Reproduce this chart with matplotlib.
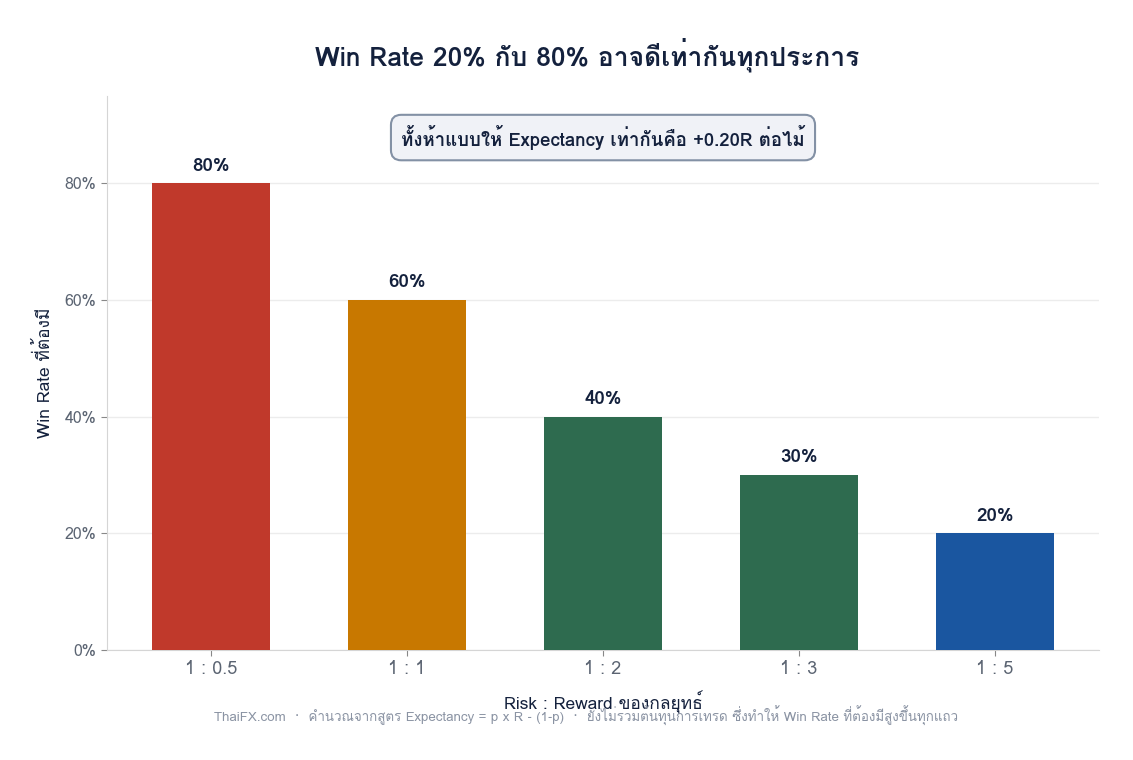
import matplotlib
matplotlib.use('Agg')
import matplotlib.pyplot as plt
from matplotlib.ticker import FuncFormatter

#thai looped font with latin glyphs, then fallbacks
plt.rcParams['font.family'] = ['Garuda', 'Loma', 'Noto Sans Thai Looped',
                               'Liberation Sans', 'Noto Sans Thai', 'DejaVu Sans']

ratios    = ['1 : 0.5', '1 : 1', '1 : 2', '1 : 3', '1 : 5']
win_rates = [80, 60, 40, 30, 20]
colors    = ['#C0392B', '#C87800', '#2E6B4F', '#2E6B4F', '#1A56A0']

title  = 'Win Rate 20% กับ 80% อาจดีเท่ากันทุกประการ'
note   = 'ทั้งห้าแบบให้ Expectancy เท่ากันคือ +0.20R ต่อไม้'
footer = ('ThaiFX.com  ·  คำนวณจากสูตร Expectancy = p x R − (1−p)  ·  '
          'ยังไม่รวมต้นทุนการเทรด ซึ่งทำให้ Win Rate ที่ต้องมีสูงขึ้นทุกแถว')

dark = '#14213D'
grey = '#5B6472'

fig = plt.figure(figsize=(11.33, 7.6), dpi=100, facecolor='white')
ax = fig.add_axes([107/1133, 110/760, (1099-107)/1133, (650-96)/760])

x = range(len(ratios))
ax.bar(x, win_rates, width=0.6, color=colors, zorder=3)
for xi, v in zip(x, win_rates):
    ax.text(xi, v + 1.5, f'{v}%', ha='center', va='bottom',
            fontsize=13.5, fontweight='bold', color=dark)

ax.set_xlim(-0.53, 4.53)
ax.set_ylim(0, 95)
ax.set_yticks([0, 20, 40, 60, 80])
ax.yaxis.set_major_formatter(FuncFormatter(lambda v, p: f'{v:.0f}%'))
ax.set_xticks(list(x))
ax.set_xticklabels(ratios, fontsize=13, color=grey)
ax.tick_params(axis='y', labelsize=11.5, labelcolor=grey, color='#888888', length=4)
ax.tick_params(axis='x', color='#888888', length=4)
ax.grid(axis='y', color='#ECECEC', linewidth=1, zorder=0)
for s in ['top', 'right']:
    ax.spines[s].set_visible(False)
for s in ['left', 'bottom']:
    ax.spines[s].set_color('#D5D5D5')

ax.set_ylabel('Win Rate ที่ต้องมี', fontsize=12.5, color=dark, labelpad=8)
ax.set_xlabel('Risk : Reward ของกลยุทธ์', fontsize=12.5, color=dark, labelpad=9)

ax.text(0.5, 0.925, note, transform=ax.transAxes, ha='center', va='center',
        fontsize=13.4, fontweight='bold', color=dark,
        bbox=dict(boxstyle='round,pad=0.55', fc='#F0F2F7', ec='#8391A5', lw=1.5))

fig.text(587/1133, 1 - 55/760, title, ha='center', va='center',
         fontsize=19, fontweight='bold', color=dark)
fig.text(586/1133, 1 - 716/760, footer, ha='center', va='center',
         fontsize=9.6, color='#8A93A3')

fig.savefig('out.png', dpi=100, facecolor='white')
